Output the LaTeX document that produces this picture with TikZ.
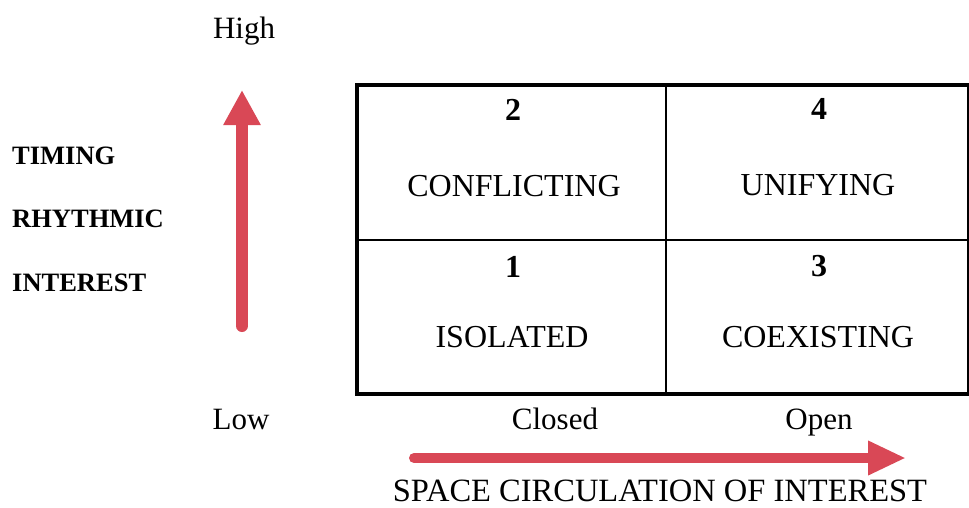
\documentclass[tikz,border=0pt]{standalone}
\usepackage{fontspec}
\setmainfont{Liberation Serif}
\usetikzlibrary{arrows.meta}
\definecolor{arrowred}{HTML}{D94856}
\tikzset{
  lbl/.style={inner sep=0pt, anchor=base, font=\fontsize{31}{36}\selectfont},
  cell/.style={inner sep=0pt, anchor=base, font=\fontsize{32}{38}\selectfont},
  num/.style={inner sep=0pt, anchor=base, font=\fontsize{32}{38}\selectfont\bfseries},
  axis/.style={inner sep=0pt, anchor=base west, font=\fontsize{26.5}{32}\selectfont\bfseries},
  bigarrow/.style={draw=arrowred, line cap=round, -{Triangle[width=35pt,length=35pt]}},
}
\begin{document}
\begin{tikzpicture}[x=1pt,y=-1pt]
\useasboundingbox (0,0) rectangle (969,507);
% grid
\coordinate (tl) at (357,85);
\coordinate (br) at (969,394);
\coordinate (mt) at (666,85);
\coordinate (mb) at (666,394);
\coordinate (ml) at (357,240);
\coordinate (mr) at (969,240);
\draw[line width=4.5pt] (tl) rectangle (br);
\draw[line width=2.4pt] (mt) -- (mb);
\draw[line width=2.4pt] (ml) -- (mr);
% cell texts
\node[num]  (n2) at (513,120) {2};
\node[cell] (c2) at (514,196) {CONFLICTING};
\node[num]  (n4) at (819,119) {4};
\node[cell] (c4) at (818,195) {UNIFYING};
\node[num]  (n1) at (513,277) {1};
\node[cell] (c1) at (512,347) {ISOLATED};
\node[num]  (n3) at (819,276) {3};
\node[cell] (c3) at (818,347) {COEXISTING};
% axis labels
\node[lbl] (high) at (244,38) {High};
\node[lbl] (low) at (241,429) {Low};
\node[lbl] (closed) at (555,429) {Closed};
\node[lbl] (open) at (819,429) {Open};
\node[lbl, font=\fontsize{32.5}{38}\selectfont] (space) at (660,501) {SPACE CIRCULATION OF INTEREST};
\node[axis] (timing) at (12,164) {TIMING};
\node[axis] (rhythmic) at (12,227) {RHYTHMIC};
\node[axis] (interest) at (12,291) {INTEREST};
% arrows
\coordinate (vs) at (242,326);
\coordinate (ve) at (242,90);
\coordinate (hs) at (414,458);
\coordinate (he) at (906,458);
\draw[bigarrow, line width=12pt] (vs) -- (ve);
\draw[bigarrow, line width=10pt, -{Triangle[width=32pt,length=38pt]}] (hs) -- (he);
\end{tikzpicture}
\end{document}
